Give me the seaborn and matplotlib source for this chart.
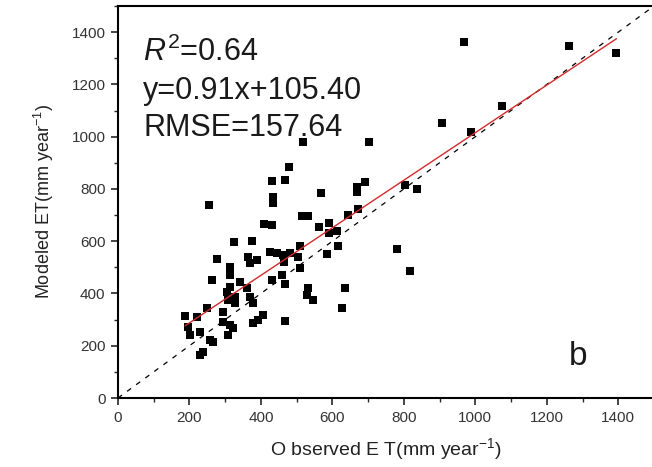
import numpy as np
import pandas as pd
import matplotlib
matplotlib.use("Agg")
import matplotlib.pyplot as plt
from matplotlib.ticker import MultipleLocator
import seaborn as sns

# Annual evapotranspiration: observed vs modeled (mm year^-1)
observed = [518, 703, 479, 431, 468, 434, 434, 255, 515, 532, 409, 431, 325, 375, 510,
            692, 669, 669, 569, 804, 838, 644, 672, 591, 563, 613, 591, 616, 782, 277,
            364, 370, 389, 426, 445, 462, 482, 504, 585, 314, 314, 465, 510, 263, 342,
            431, 459, 468, 314, 305, 361, 370, 378, 328, 328, 308, 249, 294, 188, 221,
            294, 314, 322, 406, 392, 378, 468, 196, 230, 202, 258, 266, 308, 238, 230,
            529, 532, 546, 636, 627, 818, 969, 908, 1076, 989, 1261, 1395]
modeled = [979, 979, 884, 830, 834, 769, 746, 738, 696, 696, 666, 662, 597, 601, 581,
           826, 807, 788, 784, 815, 800, 700, 723, 669, 654, 639, 631, 581, 570, 532,
           539, 516, 528, 559, 555, 547, 555, 539, 551, 501, 471, 520, 497, 451, 444,
           451, 471, 436, 425, 406, 421, 386, 363, 386, 363, 375, 344, 329, 314, 310,
           291, 279, 268, 318, 298, 287, 295, 272, 252, 241, 222, 214, 241, 176, 164,
           394, 421, 375, 421, 344, 486, 1362, 1052, 1117, 1018, 1347, 1320]

# Regression statistics
r2 = 0.64
slope = 0.91
intercept = 105.40
rmse = 157.64

df = pd.DataFrame({"observed": observed, "modeled": modeled})

sns.set_style("ticks")
plt.rcParams["font.family"] = ["Liberation Sans", "DejaVu Sans"]
plt.rcParams["mathtext.fontset"] = "custom"
plt.rcParams["mathtext.rm"] = "Liberation Sans"
plt.rcParams["mathtext.it"] = "Liberation Sans:italic"

W, H = 652, 467
fig = plt.figure(figsize=(W / 100, H / 100), dpi=100)
ax = fig.add_axes([118 / W, 1 - 398 / H, 536 / W, 392 / H])

# 1:1 reference line
ax.plot([0, 1500], [0, 1500], color="black", lw=0.9, linestyle=(0, (4, 5)), zorder=1)

sns.scatterplot(data=df, x="observed", y="modeled", marker="s", s=40,
                color="black", edgecolor="black", linewidth=0, ax=ax, zorder=2)

# fitted line over the observed range
xfit = np.array([min(observed), max(observed)])
ax.plot(xfit, slope * xfit + intercept, color="#d42a2a", lw=1.0, zorder=3)

ax.set_xlim(0, 1500)
ax.set_ylim(0, 1500)
ax.xaxis.set_major_locator(MultipleLocator(200))
ax.xaxis.set_minor_locator(MultipleLocator(100))
ax.yaxis.set_major_locator(MultipleLocator(200))
ax.yaxis.set_minor_locator(MultipleLocator(100))
ax.tick_params(which="major", direction="out", length=5, width=1.2,
               labelsize=11, labelcolor="#333333", pad=4)
ax.tick_params(which="minor", direction="out", length=3, width=1.0)
for side in ["left", "bottom", "top", "right"]:
    ax.spines[side].set_visible(True)
    ax.spines[side].set_linewidth(1.5)
    ax.spines[side].set_color("black")

ax.set_xlabel("O bserved E T(mm year$^{-1}$)", fontsize=14, color="#222222", labelpad=8)
ax.set_ylabel("Modeled ET(mm year$^{-1}$)", fontsize=13, color="#222222", labelpad=11)

def px(x, y):
    return x / W, 1 - y / H

fig.text(*px(143, 61), rf"$R^2$={r2:.2f}", fontsize=22, color="#1a1a1a", va="baseline")
fig.text(*px(143, 99), f"y={slope:.2f}x+{intercept:.2f}", fontsize=22, color="#1a1a1a", va="baseline")
fig.text(*px(143, 136), f"RMSE={rmse:.2f}", fontsize=22, color="#1a1a1a", va="baseline")
fig.text(*px(569, 365), "b", fontsize=24, color="#1a1a1a", va="baseline")

fig.savefig("out.png", dpi=100)
